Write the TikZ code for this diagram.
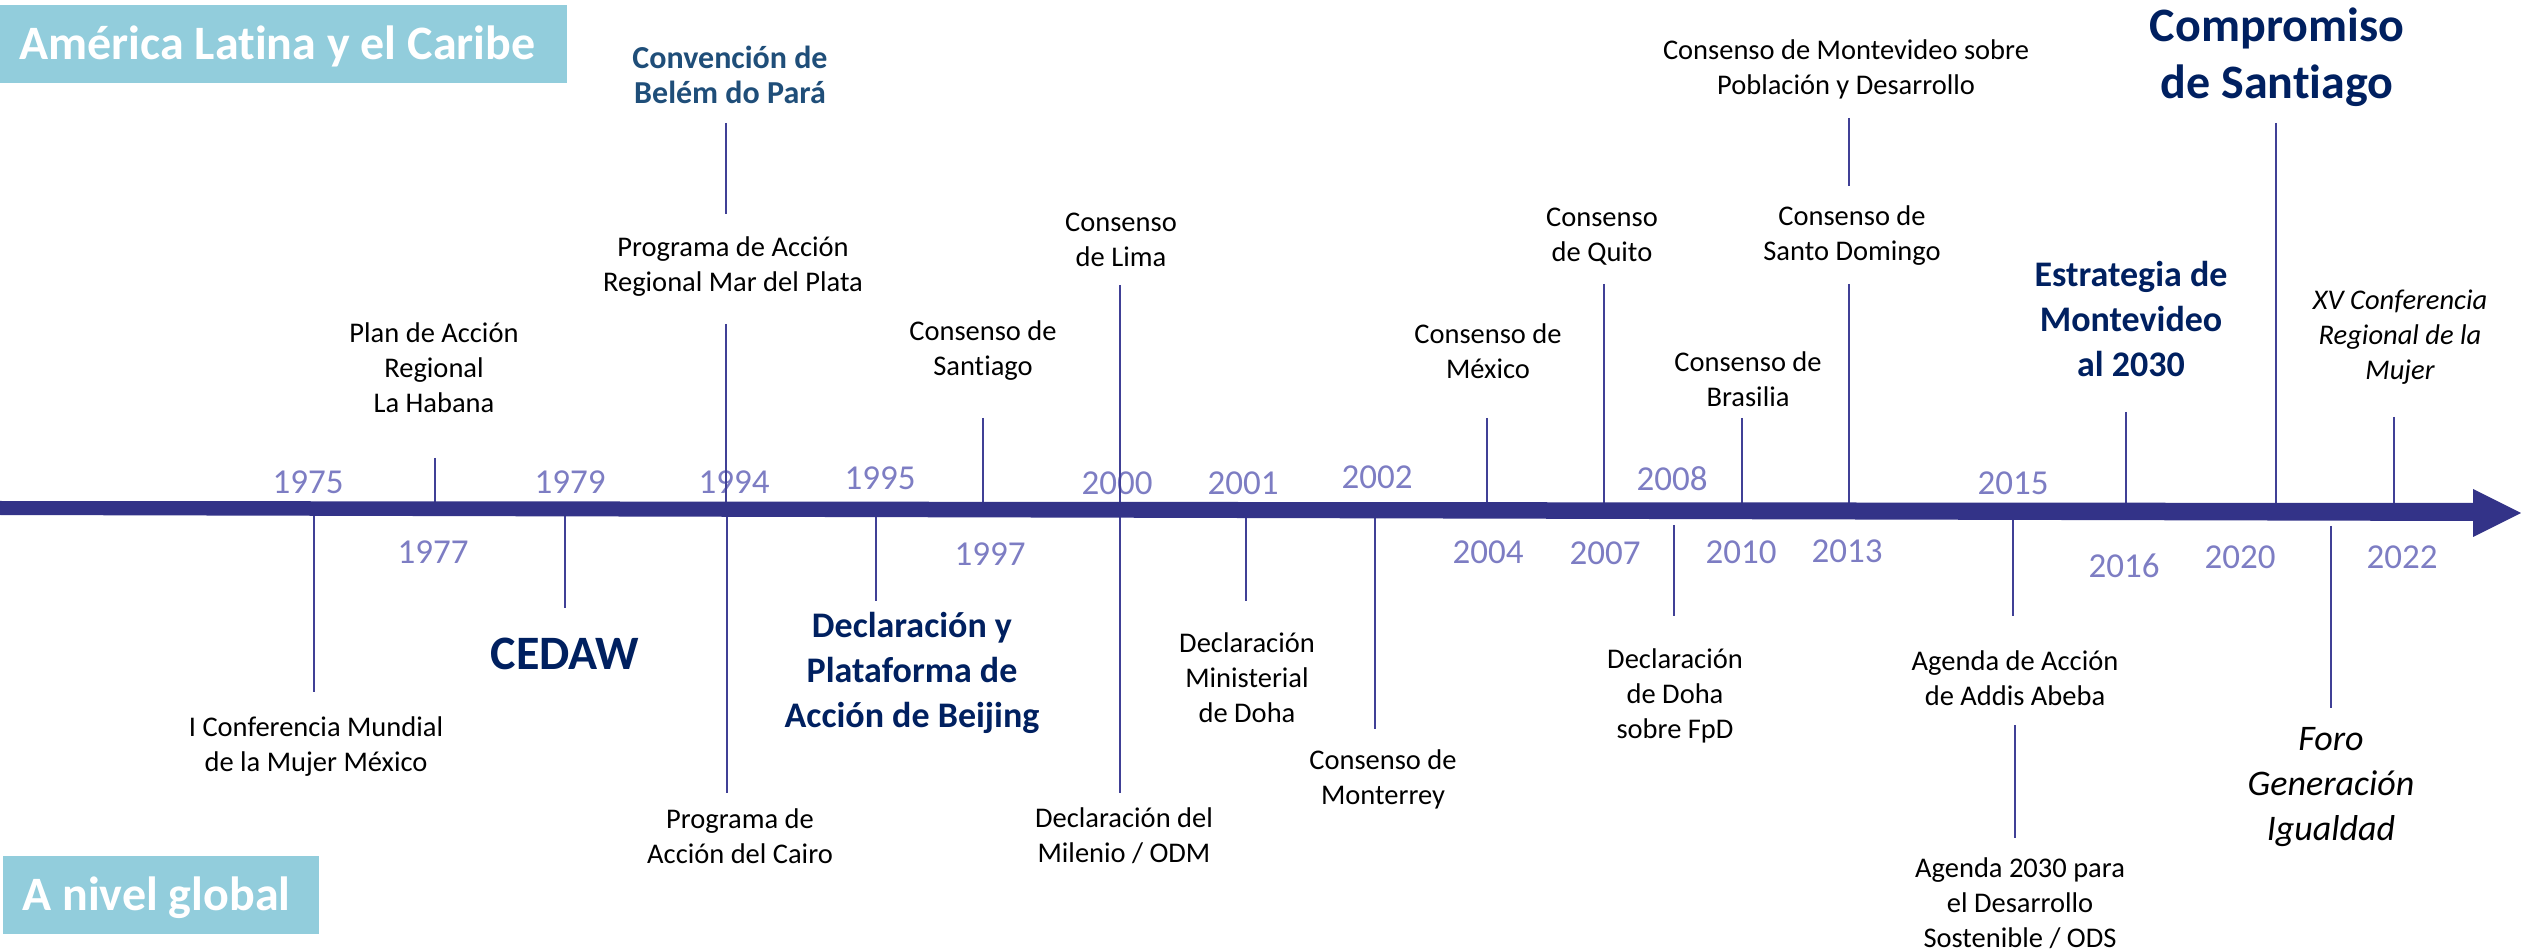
\documentclass[tikz,border=0pt]{standalone}
\usepackage{fontspec}
\setmainfont{Carlito}[Ligatures=NoCommon]
\definecolor{barc}{RGB}{51,51,136}
\definecolor{tickc}{RGB}{64,64,150}
\definecolor{yearc}{RGB}{125,125,195}
\definecolor{navyc}{RGB}{0,32,96}
\definecolor{belemc}{RGB}{31,78,121}
\definecolor{boxc}{RGB}{146,205,220}
\begin{document}
\begin{tikzpicture}[x=0.5pt,y=-0.5pt,
  lbl/.style={font=\fontsize{14.25}{17.5}\selectfont, align=center, inner sep=0pt},
  lbli/.style={lbl, font=\fontsize{14.25}{17.5}\selectfont\itshape},
  yr/.style={font=\fontsize{17.5}{21}\selectfont, text=yearc, inner sep=0pt},
  bigb/.style={font=\fontsize{24}{28.5}\selectfont\bfseries, text=navyc, align=center, inner sep=0pt},
  midb/.style={font=\fontsize{18}{22.5}\selectfont\bfseries, text=navyc, align=center, inner sep=0pt},
  smlb/.style={font=\fontsize{16}{17.5}\selectfont\bfseries, text=belemc, align=center, inner sep=0pt},
  fori/.style={font=\fontsize{18}{22.5}\selectfont\itshape, align=center, inner sep=0pt},
  tick/.style={draw=tickc, line width=0.75pt},
  hbox/.style={fill=boxc, draw=none, inner sep=0pt, anchor=north west},
  htxt/.style={font=\fontsize{24}{28}\selectfont\bfseries, text=white, inner sep=0pt, anchor=base west}
]
\useasboundingbox (0,0) rectangle (2521,951);

% header boxes
\node[hbox, minimum width=283.5pt, minimum height=39pt] (amer) at (0,5) {};
\node[htxt] (amert) at (19,60) {América Latina y el Caribe};
\node[hbox, minimum width=158pt, minimum height=39pt] (glob) at (3,856) {};
\node[htxt] (globt) at (22,910) {A nivel global};

% ---- labels above ----
\node[lbl] (habana) at (434,368) {Plan de Acción\\Regional\\La Habana};
\node[lbl] (marplata) at (733,267) {Programa de Acción\\Regional Mar del Plata};
\node[smlb] (belem) at (730,75) {Convención de\\Belém do Pará};
\node[lbl] (stgo97) at (983,351) {Consenso de\\Santiago};
\node[lbl] (lima) at (1121,240) {Consenso\\de Lima};
\node[lbl] (mexico) at (1488,351) {Consenso de\\México};
\node[lbl] (quito) at (1602,237) {Consenso\\de Quito};
\node[lbl] (montpob) at (1846,69) {Consenso de Montevideo sobre\\Población y Desarrollo};
\node[lbl] (stodom) at (1852,236) {Consenso de\\Santo Domingo};
\node[lbl] (brasilia) at (1748,379) {Consenso de\\Brasilia};
\node[midb] (estrat) at (2131,319) {Estrategia de\\Montevideo\\al 2030};
\node[bigb] (compro) at (2277,57) {Compromiso\\de Santiago};
\node[lbli] (xv) at (2400,337) {XV Conferencia\\Regional de la\\Mujer};

% ---- labels below ----
\node[lbl] (mundial) at (316,747) {I Conferencia Mundial\\de la Mujer México};
\node[bigb] (cedaw) at (565,654) {CEDAW};
\node[lbl] (cairo) at (740,836) {Programa de\\Acción del Cairo};
\node[midb] (beijing) at (912,673) {Declaración y\\Plataforma de\\Acción de Beijing};
\node[lbl] (milenio) at (1124,836) {Declaración del\\Milenio / ODM};
\node[lbl] (dohamin) at (1247,678) {Declaración\\Ministerial\\de Doha};
\node[lbl] (monterrey) at (1383,779) {Consenso de\\Monterrey};
\node[lbl] (dohafpd) at (1675,696) {Declaración\\de Doha\\sobre FpD};
\node[lbl] (addis) at (2015,678) {Agenda de Acción\\de Addis Abeba};
\node[lbl] (ag2030) at (2020,903) {Agenda 2030 para\\el Desarrollo\\Sostenible / ODS};
\node[fori] (foro) at (2331,787) {Foro\\Generación\\Igualdad};

% ---- years ----
\node[yr] (y1975) at (308,482) {1975};
\node[yr] (y1977) at (433,552) {1977};
\node[yr] (y1979) at (570,482) {1979};
\node[yr] (y1994) at (734,482) {1994};
\node[yr] (y1995) at (880,478) {1995};
\node[yr] (y1997) at (990,554) {1997};
\node[yr] (y2000) at (1117,483) {2000};
\node[yr] (y2001) at (1243,483) {2001};
\node[yr] (y2002) at (1377,477) {2002};
\node[yr] (y2004) at (1488,552) {2004};
\node[yr] (y2007) at (1605,553) {2007};
\node[yr] (y2008) at (1672,479) {2008};
\node[yr] (y2010) at (1741,552) {2010};
\node[yr] (y2013) at (1847,551) {2013};
\node[yr] (y2015) at (2013,483) {2015};
\node[yr] (y2016) at (2124,566) {2016};
\node[yr] (y2020) at (2240,557) {2020};
\node[yr] (y2022) at (2402,557) {2022};

% ---- tick coordinates ----
\coordinate (u1977a) at (435,458);  \coordinate (u1977b) at (435,508);
\coordinate (u1994a) at (726,324);  \coordinate (u1994b) at (726,508);
\coordinate (ubelA) at (726,123);   \coordinate (ubelB) at (726,214);
\coordinate (u1997a) at (983,418);  \coordinate (u1997b) at (983,508);
\coordinate (u2000a) at (1120,285); \coordinate (u2000b) at (1120,508);
\coordinate (u2004a) at (1487,418); \coordinate (u2004b) at (1487,508);
\coordinate (u2007a) at (1604,284); \coordinate (u2007b) at (1604,508);
\coordinate (u2010a) at (1742,418); \coordinate (u2010b) at (1742,508);
\coordinate (u2013a) at (1849,284); \coordinate (u2013b) at (1849,508);
\coordinate (umonA) at (1849,118);  \coordinate (umonB) at (1849,186);
\coordinate (u2016a) at (2126,412); \coordinate (u2016b) at (2126,508);
\coordinate (u2020a) at (2276,123); \coordinate (u2020b) at (2276,508);
\coordinate (u2022a) at (2394,417); \coordinate (u2022b) at (2394,508);

\coordinate (d1975a) at (314,510);  \coordinate (d1975b) at (314,692);
\coordinate (d1979a) at (565,510);  \coordinate (d1979b) at (565,608);
\coordinate (d1994a) at (727,510);  \coordinate (d1994b) at (727,793);
\coordinate (d1995a) at (876,510);  \coordinate (d1995b) at (876,601);
\coordinate (d2000a) at (1120,510); \coordinate (d2000b) at (1120,793);
\coordinate (d2001a) at (1246,510); \coordinate (d2001b) at (1246,601);
\coordinate (d2002a) at (1375,510); \coordinate (d2002b) at (1375,729);
\coordinate (d2008a) at (1674,525); \coordinate (d2008b) at (1674,616);
\coordinate (d2015a) at (2013,510); \coordinate (d2015b) at (2013,616);
\coordinate (dagA) at (2015,725);   \coordinate (dagB) at (2015,838);
\coordinate (dforoA) at (2331,526); \coordinate (dforoB) at (2331,708);

\foreach \a/\b in {u1977a/u1977b,u1994a/u1994b,ubelA/ubelB,u1997a/u1997b,u2000a/u2000b,
  u2004a/u2004b,u2007a/u2007b,u2010a/u2010b,u2013a/u2013b,umonA/umonB,u2016a/u2016b,
  u2020a/u2020b,u2022a/u2022b,d1975a/d1975b,d1979a/d1979b,d1994a/d1994b,d1995a/d1995b,
  d2000a/d2000b,d2001a/d2001b,d2002a/d2002b,d2008a/d2008b,d2015a/d2015b,dagA/dagB,dforoA/dforoB}
  \draw[tick] (\a) -- (\b);

% ---- main arrow ----
\fill[barc] (0,501) -- (2473,503) -- (2473,489) -- (2521,513) -- (2473,537) -- (2473,521) -- (0,515) -- cycle;
\end{tikzpicture}
\end{document}
